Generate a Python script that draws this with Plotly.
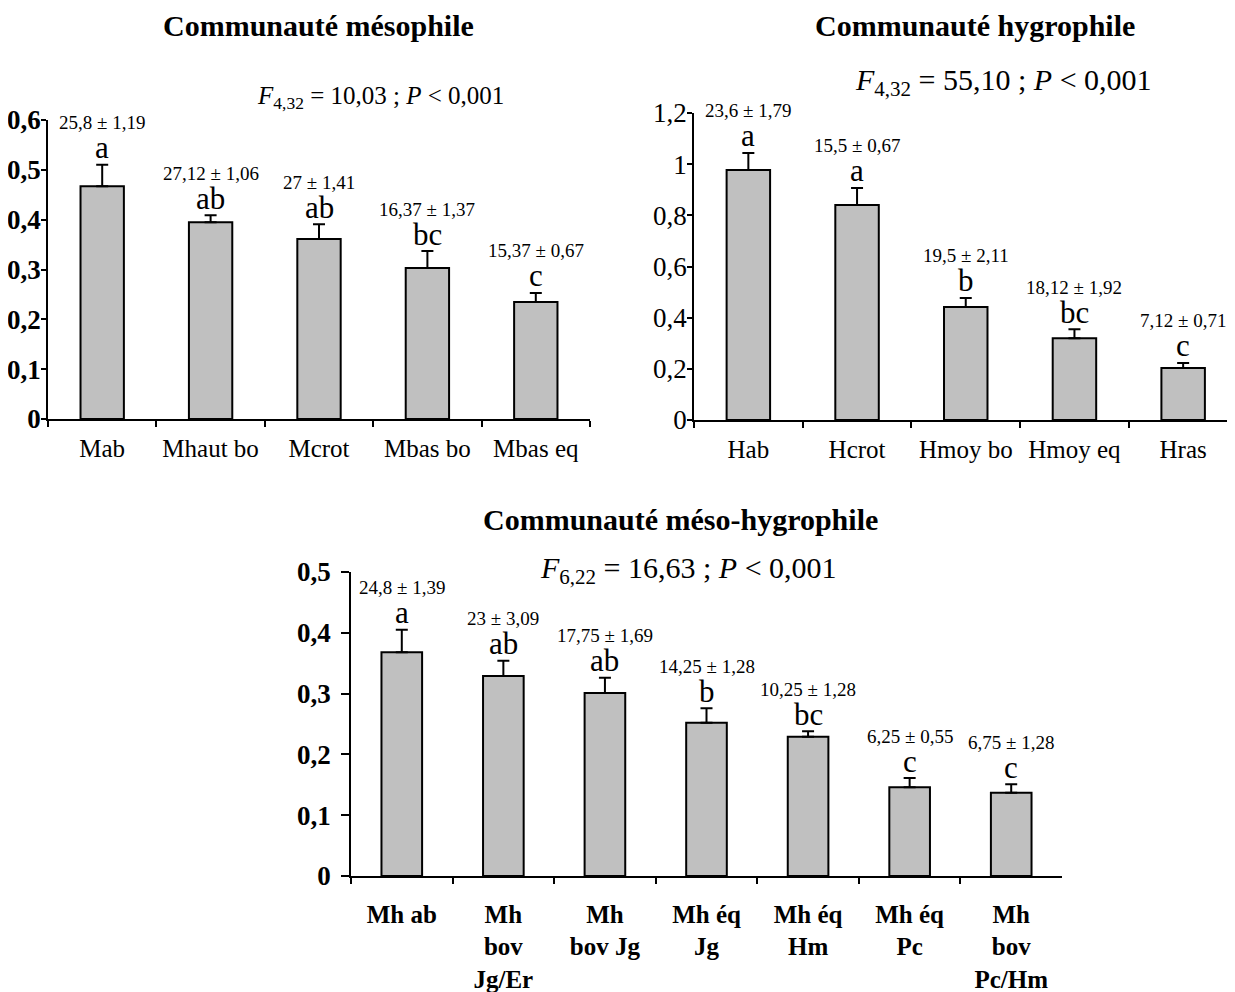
import plotly.graph_objects as go

# ---------------- data ----------------
meso_cats = ["Mab", "Mhaut bo", "Mcrot", "Mbas bo", "Mbas eq"]
meso_vals = [0.467, 0.395, 0.361, 0.303, 0.235]
meso_err = [0.043, 0.014, 0.030, 0.034, 0.018]
meso_stats = ["25,8 ± 1,19", "27,12 ± 1,06", "27 ± 1,41", "16,37 ± 1,37", "15,37 ± 0,67"]
meso_letters = ["a", "ab", "ab", "bc", "c"]

hygro_cats = ["Hab", "Hcrot", "Hmoy bo", "Hmoy eq", "Hras"]
hygro_vals = [0.977, 0.840, 0.442, 0.320, 0.203]
hygro_err = [0.067, 0.067, 0.035, 0.035, 0.020]
hygro_stats = ["23,6 ± 1,79", "15,5 ± 0,67", "19,5 ± 2,11", "18,12 ± 1,92", "7,12 ± 0,71"]
hygro_letters = ["a", "a", "b", "bc", "c"]

mh_cats = ["Mh ab", "Mh<br>bov<br>Jg/Er", "Mh<br>bov Jg", "Mh éq<br>Jg", "Mh éq<br>Hm", "Mh éq<br>Pc", "Mh<br>bov<br>Pc/Hm"]
mh_vals = [0.368, 0.329, 0.301, 0.252, 0.229, 0.146, 0.137]
mh_err = [0.037, 0.025, 0.025, 0.024, 0.009, 0.015, 0.014]
mh_stats = ["24,8 ± 1,39", "23 ± 3,09", "17,75 ± 1,69", "14,25 ± 1,28", "10,25 ± 1,28", "6,25 ± 0,55", "6,75 ± 1,28"]
mh_letters = ["a", "ab", "ab", "b", "bc", "c", "c"]

titles = ["Communauté mésophile", "Communauté hygrophile", "Communauté méso-hygrophile"]
ftests = ["<i>F</i><sub>4,32</sub> = 10,03 ; <i>P</i> &lt; 0,001",
          "<i>F</i><sub>4,32</sub> = 55,10 ; <i>P</i> &lt; 0,001",
          "<i>F</i><sub>6,22</sub> = 16,63 ; <i>P</i> &lt; 0,001"]

FONT = "Liberation Serif, Times New Roman, serif"
W, H = 1235, 992
OFF = 8  # default page body margin
FW, FH = W - OFF, H - OFF

fig = go.Figure()
panels = [
    (meso_cats, meso_vals, meso_err, meso_stats, meso_letters, "x", "y"),
    (hygro_cats, hygro_vals, hygro_err, hygro_stats, hygro_letters, "x2", "y2"),
    (mh_cats, mh_vals, mh_err, mh_stats, mh_letters, "x3", "y3"),
]

annotations = []
for cats, vals, err, stats, letters, xa, ya in panels:
    fig.add_trace(go.Bar(
        x=cats, y=vals, xaxis=xa, yaxis=ya, width=0.4,
        marker=dict(color="#c0c0c0", line=dict(color="black", width=2)),
        error_y=dict(type="data", symmetric=False, array=err, arrayminus=[0] * len(err),
                     color="black", thickness=2, width=6),
        showlegend=False, hoverinfo="skip",
    ))
    for c, v, e, s, l in zip(cats, vals, err, stats, letters):
        annotations.append(dict(x=c, y=v + e, xref=xa, yref=ya, text=s, showarrow=False,
                                xanchor="center", yanchor="middle",
                                yshift=42, font=dict(family=FONT, size=19, color="black")))
        annotations.append(dict(x=c, y=v + e, xref=xa, yref=ya, text=l, showarrow=False,
                                xanchor="center", yanchor="middle",
                                yshift=17, font=dict(family=FONT, size=31, color="black")))

def px(x):
    return (x - OFF) / FW

def py(y):
    return 1 - (y - OFF) / FH

# titles
for t, (cx, cy) in zip(titles, [(318, 25), (975, 25), (680, 519)]):
    annotations.append(dict(x=px(cx), y=py(cy), xref="paper", yref="paper", text="<b>" + t + "</b>",
                            xanchor="center", yanchor="middle",
                            showarrow=False, font=dict(family=FONT, size=30, color="black")))
# F tests
for t, (cx, cy), sz in zip(ftests, [(380, 98), (1003, 82), (688, 570)], [25, 30, 30]):
    annotations.append(dict(x=px(cx), y=py(cy), xref="paper", yref="paper", text=t,
                            xanchor="center", yanchor="middle",
                            showarrow=False, font=dict(family=FONT, size=sz, color="black")))

def xaxis(dom, rng, bold, standoff, anchor):
    return dict(domain=dom, range=rng, type="category", showline=True, linecolor="black", linewidth=1.5,
                ticks="outside", ticklen=6, tickcolor="black", tickwidth=1.5, tickson="boundaries",
                showgrid=False, zeroline=False, ticklabelstandoff=standoff, automargin=False,
                anchor=anchor, fixedrange=True,
                tickfont=dict(family=FONT, size=25, color="black",
                              weight="bold" if bold else "normal"))

def yaxis(dom, rng, dtick, bold, anchor, ticklen, standoff):
    return dict(domain=dom, range=rng, dtick=dtick, showline=True, linecolor="black", linewidth=1.5,
                ticks="outside", ticklen=ticklen, tickcolor="black", tickwidth=1.5, showgrid=False,
                zeroline=False, anchor=anchor, ticklabelstandoff=standoff, automargin=False,
                fixedrange=True,
                tickfont=dict(family=FONT, size=27, color="black", weight="bold" if bold else "normal"))

fig.update_layout(
    template="none",
    width=FW, height=FH, margin=dict(l=0, r=0, t=0, b=0, pad=0, autoexpand=False),
    paper_bgcolor="white", plot_bgcolor="white", separators=", ",
    xaxis=xaxis([px(48), px(590)], [-0.5, 4.5], False, 6, "y"),
    yaxis=yaxis([py(419), py(120)], [0, 0.6], 0.1, True, "x", 5, -5),
    xaxis2=xaxis([px(694), 1.0], [-0.5, 4.477], False, 6, "y2"),
    yaxis2=yaxis([py(420), py(113)], [0, 1.2], 0.2, False, "x2", 5, -5),
    xaxis3=xaxis([px(351), px(1062)], [-0.5, 6.5], True, 15, "y3"),
    yaxis3=yaxis([py(876), py(572)], [0, 0.5], 0.1, True, "x3", 8, 5),
    annotations=annotations,
    showlegend=False,
)

fig.write_html("out.html")
